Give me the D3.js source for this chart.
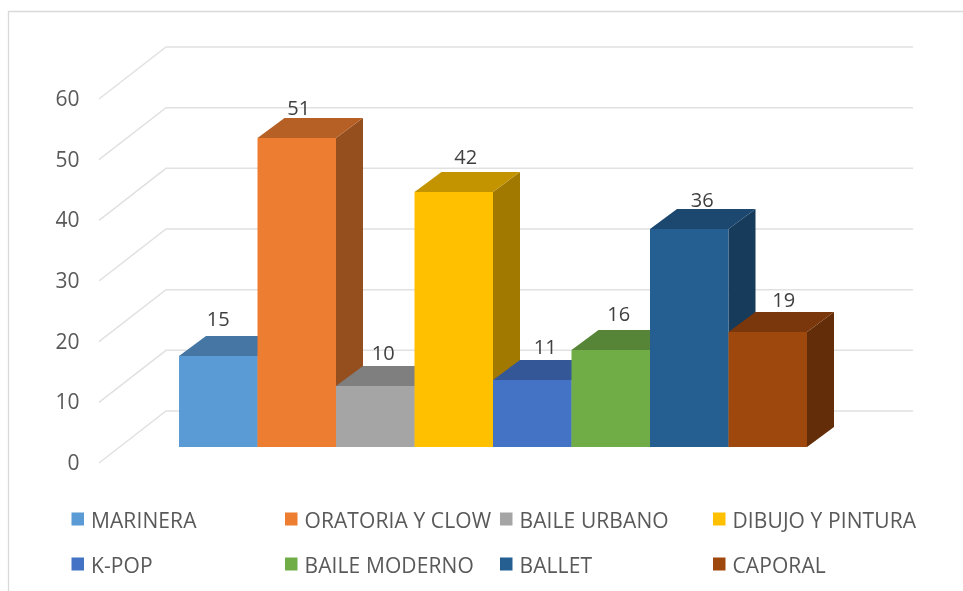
<!DOCTYPE html>
<html><head><meta charset="utf-8">
<script src="https://cdnjs.cloudflare.com/ajax/libs/d3/7.8.5/d3.min.js"></script>
<style>html,body{margin:0;background:#fff}svg{display:block;filter:blur(0.45px)}text{font-family:"Open Sans",sans-serif;fill:#595959}</style>
</head><body><svg id="c" width="963" height="591"></svg>
<script>
const categories=["MARINERA","ORATORIA Y CLOW","BAILE URBANO","DIBUJO Y PINTURA","K-POP","BAILE MODERNO","BALLET","CAPORAL"];
const values=[15,51,10,42,11,16,36,19];
const colors=["#5B9BD5","#ED7D31","#A5A5A5","#FFC000","#4472C4","#70AD47","#255E91","#9E480E"];
const yTicks=[0,10,20,30,40,50,60];
const labelNudgeX=[0,2,8,12,13,8,13,16];
const labelNudgeY=[-2,5,2,0,2,-1,6,3];

const svg=d3.select("#c");
const axisFs=21, labelFs=20, legendFs=21;
svg.append("path").attr("d","M963,11.5H8.5V591").attr("fill","none").attr("stroke","#d9d9d9").attr("stroke-width",1.3);

const y=d3.scaleLinear().domain([0,60]).range([463,99]);       // axis plane
const yBack=d3.scaleLinear().domain([0,60]).range([411,47]);   // back wall
const yBar=d3.scaleLinear().domain([0,60]).rangeRound([447,83]);    // bar front
const x=d3.scaleBand().domain(categories).range([179,807]);
const wallDx=67, axisX=99, gridEnd=913, depthX=27, depthY=20;

// gridlines
svg.append("g").selectAll("path").data(yTicks).join("path")
  .attr("d",d=>`M${axisX},${y(d)}L${axisX+wallDx},${yBack(d)}H${gridEnd}`)
  .attr("fill","none").attr("stroke","#e1e1e1").attr("stroke-width",1.5);

// axis labels
const ax=svg.append("g").attr("transform","translate(82.5,-1)")
  .call(d3.axisLeft(y).tickValues(yTicks).tickSize(0).tickPadding(3));
ax.select(".domain").remove();
ax.selectAll("text").style("font-family",'"Open Sans",sans-serif').style("font-size",axisFs+"px").attr("fill","#595959").attr("dy","0.35em");

const shade=(c,k)=>{const r=d3.rgb(c);return d3.rgb(r.r*k,r.g*k,r.b*k).formatHex();};

// bars
const bars=svg.append("g").selectAll("g").data(categories).join("g");
bars.each(function(c,i){
  const g=d3.select(this), x0=x(c), x1=x0+x.bandwidth(), t=yBar(values[i]), b=yBar(0);
  g.append("polygon").attr("fill",shade(colors[i],0.63))
    .attr("points",[[x1,t],[x1+depthX,t-depthY],[x1+depthX,b-depthY],[x1,b]].join(" "));
  g.append("polygon").attr("fill",shade(colors[i],0.77))
    .attr("points",[[x0,t],[x0+depthX,t-depthY],[x1+depthX,t-depthY],[x1,t]].join(" "));
  g.append("rect").attr("x",x0).attr("y",t).attr("width",x.bandwidth()).attr("height",b-t).attr("fill",colors[i]);
});

// data labels
svg.append("g").selectAll("text").data(values).join("text")
  .attr("x",(d,i)=>x(categories[i])+x.bandwidth()/2+labelNudgeX[i])
  .attr("y",(d,i)=>yBar(d)-depthY-15+labelNudgeY[i])
  .attr("dy","0.35em").attr("text-anchor","middle").style("font-size",labelFs+"px").style("fill","#404040").text(d=>d);

// legend
const legX=[71.5,285,500,713], legY=[519,564];
const leg=svg.append("g").selectAll("g").data(categories).join("g")
  .attr("transform",(d,i)=>`translate(${legX[i%4]},${legY[Math.floor(i/4)]})`);
leg.append("rect").attr("y",-6.5).attr("width",12.5).attr("height",13).attr("fill",(d,i)=>colors[i]);
leg.append("text").attr("x",19.5).attr("y",1.5).attr("dy","0.35em").style("font-size",legendFs+"px").style("letter-spacing","0.1px").text(d=>d);
</script></body></html>
